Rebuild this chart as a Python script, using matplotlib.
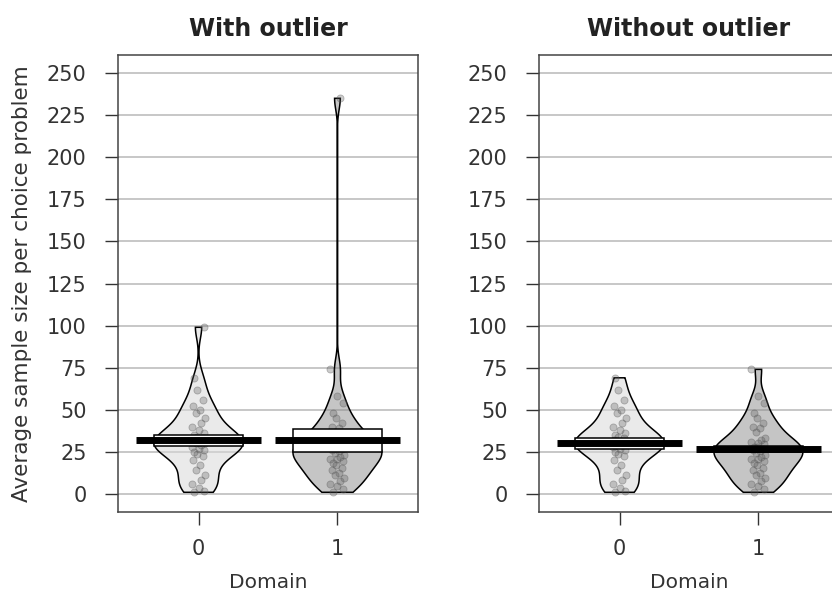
import numpy as np
import matplotlib.pyplot as plt

# average sample size per choice problem
dom0 = [1, 2, 3.5, 6, 8.5, 11, 14, 17, 20, 22.5, 24, 25, 26, 27, 28, 29, 30, 30.5,
        31, 32, 33, 34, 35, 36.5, 38, 40, 42, 45, 48, 50, 52, 56, 62, 69]
dom1 = [1, 3, 4.5, 6, 8, 9.5, 11, 12.5, 14, 15.5, 17, 18.5, 19.5, 20.5, 21, 22,
        23, 24.5, 25.5, 26, 27, 28, 28, 29.5, 30.5, 31, 32, 33.5, 37, 39, 40, 42,
        45, 48, 54, 58, 74]
out0 = 99
out1 = 235

# inference bands around the mean (lo, hi) for domain 0 / 1
band_lo_with = [28.5, 25.0]
band_hi_with = [35.0, 38.5]
band_lo_wo = [27.0, 24.8]
band_hi_wo = [33.5, 28.2]

domains = ["0", "1"]
yticks = np.arange(0, 251, 25)
fills = [(0.85, 0.85, 0.85, 0.55), (0.55, 0.55, 0.55, 0.5)]
jit = np.array([-0.03, 0.04, 0.0, -0.05, 0.02, 0.05, -0.02, 0.01, -0.04, 0.03, -0.01])

fsz = 15


def nrd0(x):
    hi = np.std(x, ddof=1)
    q75, q25 = np.percentile(x, [75, 25])
    lo = min(hi, (q75 - q25) / 1.34)
    return 0.9 * lo * len(x) ** (-0.2)


def bean(ax, x0, vals, fc, lo, hi):
    vals = np.asarray(vals, dtype=float)
    bw = nrd0(vals)
    yy = np.linspace(vals.min(), vals.max(), 512)
    dens = np.exp(-0.5 * ((yy[:, None] - vals[None, :]) / bw) ** 2).sum(axis=1)
    w = dens / dens.max() * 0.32
    xs = np.concatenate([x0 - w, (x0 + w)[::-1]])
    ys = np.concatenate([yy, yy[::-1]])
    ax.fill(xs, ys, facecolor=fc, edgecolor="none", zorder=2)
    ax.fill(xs, ys, facecolor="none", edgecolor="black", lw=1.1, zorder=3)
    jx = x0 + np.resize(jit, len(vals))
    ax.scatter(jx, vals, s=26, color=(0.35, 0.35, 0.35, 0.3),
               edgecolors=(0.35, 0.35, 0.35, 0.4), linewidths=0.6, zorder=4)
    m = vals.mean()
    ax.fill([x0 - 0.32, x0 + 0.32, x0 + 0.32, x0 - 0.32],
            [lo, lo, hi, hi], facecolor="white", edgecolor="black", lw=1.1, zorder=5)
    ax.plot([x0 - 0.45, x0 + 0.45], [m, m], color="black", lw=5,
            solid_capstyle="butt", zorder=6)


fig = plt.figure(figsize=(8.32, 6.08), dpi=100)
ax1 = fig.add_axes([0.1418, 0.1579, 0.3606, 0.7516])
ax2 = fig.add_axes([0.6478, 0.1579, 0.3606, 0.7516])

sets = [
    (ax1, "With outlier", [dom0 + [out0], dom1 + [out1]], band_lo_with, band_hi_with),
    (ax2, "Without outlier", [dom0, dom1], band_lo_wo, band_hi_wo),
]

for ax, title, data, blo, bhi in sets:
    for yv in yticks:
        ax.axhline(yv, color="#b8b8b8", lw=1.1, zorder=1)
    for i in range(2):
        bean(ax, i, data[i], fills[i], blo[i], bhi[i])
    ax.set_xlim(-0.58, 1.58)
    ax.set_ylim(-10.7, 260.7)
    ax.set_yticks(yticks)
    ax.set_xticks([0, 1])
    ax.set_xticklabels(domains)
    ax.tick_params(labelsize=fsz, length=9.5, width=1.0, color="#333333",
                   labelcolor="#333333", pad=13)
    ax.tick_params(axis="x", pad=10)
    for sp in ax.spines.values():
        sp.set_color("#444444")
        sp.set_linewidth(1.1)
    ax.set_title(title, fontsize=fsz + 2, fontweight="bold", color="#222222", pad=14)
    ax.set_xlabel("Domain", fontsize=fsz - 0.5, color="#333333", labelpad=10)

ax1.set_ylabel("Average sample size per choice problem", fontsize=fsz + 0.5,
               color="#333333", labelpad=11)

fig.savefig("out.png", dpi=100)
